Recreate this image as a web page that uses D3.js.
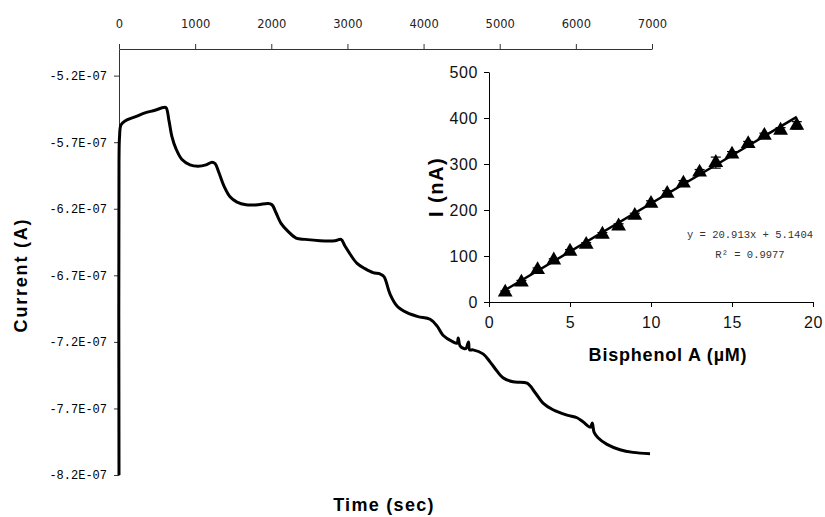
<!DOCTYPE html>
<html>
<head>
<meta charset="utf-8">
<script src="https://cdn.jsdelivr.net/npm/d3@7"></script>
<style>
  body { margin: 0; background: #fff; }
  svg { display: block; }
  .main-axis path, .main-axis line { stroke: #333; }
  .inset-axis path, .inset-axis line { stroke: #000; }
</style>
</head>
<body>
<svg id="chart" width="825" height="517"></svg>
<script>
// amperometric trace: time (s) and current (x 1e-7 A)
timeSec = [0, 0, 7, 26, 79, 210, 341, 473, 578, 617, 657, 696, 749, 827, 932, 1038, 1143, 1221, 1261,
  1313, 1379, 1458, 1550, 1668, 1826, 1957, 2009, 2062, 2128, 2220, 2325, 2443, 2640, 2837, 2916,
  2968, 3034, 3126, 3231, 3336, 3428, 3480, 3559, 3651, 3782, 3927, 4085, 4176, 4255, 4387, 4440,
  4455, 4479, 4530, 4557, 4590, 4605, 4649, 4781, 4873, 4938, 5043, 5175, 5359, 5464, 5569, 5700,
  5884, 6015, 6094, 6190, 6215, 6240, 6291, 6409, 6580, 6751, 6974];
currentE7 = [-8.2, -5.84, -5.66, -5.57, -5.54, -5.51, -5.48, -5.46, -5.44, -5.44, -5.54, -5.66, -5.75, -5.83, -5.87, -5.88, -5.87, -5.85, -5.86,
  -5.93, -6.03, -6.11, -6.15, -6.17, -6.17, -6.16, -6.17, -6.23, -6.31, -6.37, -6.42, -6.43, -6.44, -6.44, -6.43,
  -6.48, -6.54, -6.61, -6.65, -6.68, -6.69, -6.71, -6.84, -6.93, -6.98, -7.01, -7.03, -7.08, -7.15, -7.20, -7.21,
  -7.17, -7.23, -7.25, -7.25, -7.20, -7.26, -7.26, -7.29, -7.35, -7.40, -7.47, -7.50, -7.51, -7.58, -7.66, -7.71,
  -7.75, -7.77, -7.80, -7.84, -7.81, -7.88, -7.92, -7.97, -8.01, -8.03, -8.04];
timeTicks = [0, 1000, 2000, 3000, 4000, 5000, 6000, 7000];
currentTicks = [-8.2, -7.7, -7.2, -6.7, -6.2, -5.7, -5.2];

// calibration inset
bpaConc = [1, 2, 3, 4, 5, 6, 7, 8, 9, 10, 11, 12, 13, 14, 15, 16, 17, 18, 19];
bpaCurrent = [21, 43, 70, 91, 110, 125, 147, 165, 188, 214, 236, 258, 282, 303, 321, 344, 362, 373, 384];
bpaError = [3, 4, 4, 3, 4, 4, 4, 5, 5, 6, 6, 6, 6, 12, 6, 5, 5, 6, 8];
fitSlope = 20.913;
fitIntercept = 5.1404;
concTicks = [0, 5, 10, 15, 20];
nAticks = [0, 100, 200, 300, 400, 500];

const svg = d3.select("#chart");

const x = d3.scaleLinear().domain([0, 7000]).range([119, 652]);
const y = d3.scaleLinear().domain([-8.2, -5.0]).range([475, 49]);

// top time axis
svg.append("g")
  .attr("class", "main-axis")
  .attr("transform", "translate(0," + y(-5.0) + ")")
  .call(d3.axisTop(x).tickValues(timeTicks).tickSize(5).tickSizeOuter(0).tickPadding(16).tickFormat(d3.format("d")))
  .call(g => g.selectAll("text").attr("fill", "#222").style("font-family", "DejaVu Sans").style("font-size", "11.5px"));

// left current axis
svg.append("g")
  .attr("class", "main-axis")
  .attr("transform", "translate(" + x(0) + ",0)")
  .call(d3.axisLeft(y).tickValues(currentTicks).tickSize(5).tickSizeOuter(0).tickPadding(7)
    .tickFormat(d => d.toFixed(1) + "E-07"))
  .call(g => g.selectAll("text").attr("fill", "#000").style("font-family", "Liberation Mono").style("font-size", "12px"));

// current trace
const trace = timeSec.map((t, i) => [t, currentE7[i]]);
svg.append("path")
  .datum(trace)
  .attr("fill", "none")
  .attr("stroke", "#000")
  .attr("stroke-width", 3)
  .attr("stroke-linejoin", "round")
  .attr("d", d3.line().curve(d3.curveCatmullRom.alpha(0.5)).x(d => x(d[0])).y(d => y(d[1])));

svg.append("text")
  .attr("transform", "translate(27,275) rotate(-90)")
  .attr("text-anchor", "middle")
  .style("font-family", "Liberation Sans").style("font-weight", "bold")
  .style("font-size", "18px").style("letter-spacing", "1.8px")
  .text("Current (A)");

svg.append("text")
  .attr("x", 384).attr("y", 511)
  .attr("text-anchor", "middle")
  .style("font-family", "Liberation Sans").style("font-weight", "bold")
  .style("font-size", "18px").style("letter-spacing", "1.3px")
  .text("Time (sec)");

// inset
const ix = d3.scaleLinear().domain([0, 20]).range([489, 813]);
const iy = d3.scaleLinear().domain([0, 500]).range([302, 72]);

svg.append("g")
  .attr("class", "inset-axis")
  .attr("transform", "translate(" + ix(0) + ",0)")
  .call(d3.axisLeft(iy).tickValues(nAticks).tickSize(5).tickSizeOuter(0).tickPadding(6))
  .call(g => g.selectAll("text").attr("fill", "#111").style("font-family", "Liberation Sans").style("font-size", "16px").style("letter-spacing", "0.6px"));

svg.append("g")
  .attr("class", "inset-axis")
  .attr("transform", "translate(0," + iy(0) + ")")
  .call(d3.axisBottom(ix).tickValues(concTicks).tickSize(5).tickSizeOuter(0).tickPadding(10))
  .call(g => g.selectAll("text").attr("fill", "#111").style("font-family", "Liberation Sans").style("font-size", "16px").style("letter-spacing", "0.6px"));

// error bars
const eb = svg.append("g").attr("stroke", "#000").attr("stroke-width", 1.2);
bpaConc.forEach((c, i) => {
  const cx = ix(c), top = iy(bpaCurrent[i] + bpaError[i]), bot = iy(bpaCurrent[i] - bpaError[i]);
  eb.append("line").attr("x1", cx).attr("x2", cx).attr("y1", top).attr("y2", bot);
  eb.append("line").attr("x1", cx - 5).attr("x2", cx + 5).attr("y1", top).attr("y2", top);
  eb.append("line").attr("x1", cx - 5).attr("x2", cx + 5).attr("y1", bot).attr("y2", bot);
});

// fit line
svg.append("line")
  .attr("x1", ix(1)).attr("y1", iy(fitSlope * 1 + fitIntercept))
  .attr("x2", ix(19)).attr("y2", iy(fitSlope * 19 + fitIntercept))
  .attr("stroke", "#000").attr("stroke-width", 2.5);

svg.append("g").selectAll("path")
  .data(bpaConc)
  .join("path")
  .attr("transform", (c, i) => "translate(" + ix(c) + "," + iy(bpaCurrent[i]) + ")")
  .attr("d", d3.symbol(d3.symbolTriangle, 95))
  .attr("fill", "#000");

svg.append("text")
  .attr("x", 813).attr("y", 238)
  .attr("text-anchor", "end")
  .attr("fill", "#333")
  .style("font-family", "Liberation Mono").style("font-size", "10.5px")
  .text("y = " + fitSlope + "x + " + fitIntercept);

svg.append("text")
  .attr("x", 750).attr("y", 258)
  .attr("text-anchor", "middle")
  .attr("fill", "#333")
  .style("font-family", "Liberation Mono").style("font-size", "10.5px")
  .text("R² = 0.9977");

svg.append("text")
  .attr("transform", "translate(443,187) rotate(-90)")
  .attr("text-anchor", "middle")
  .style("font-family", "Liberation Sans").style("font-weight", "bold")
  .style("font-size", "20px").style("letter-spacing", "1.5px")
  .text("I (nA)");

svg.append("text")
  .attr("x", 668).attr("y", 361)
  .attr("text-anchor", "middle")
  .style("font-family", "Liberation Sans").style("font-weight", "bold")
  .style("font-size", "18px").style("letter-spacing", "0.8px")
  .text("Bisphenol A (µM)");
</script>
</body>
</html>
